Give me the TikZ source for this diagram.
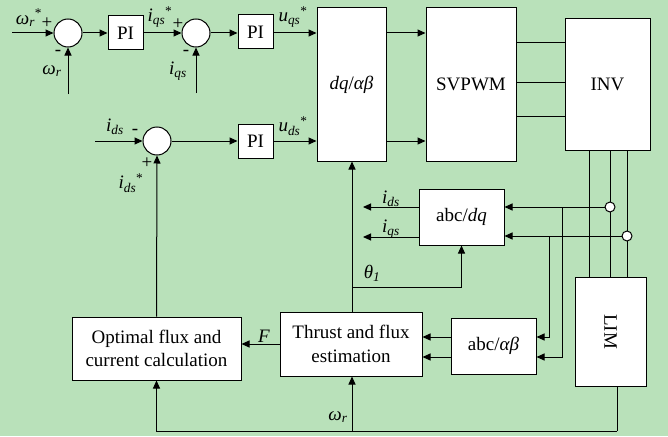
\documentclass[tikz,border=0pt]{standalone}
\usepackage{fontspec}
\setmainfont{Liberation Serif}
\usetikzlibrary{arrows.meta}

\definecolor{panelgreen}{RGB}{185,225,186}
\newcommand{\sv}[2]{\textit{#1}\textsubscript{\textit{#2}}}

\begin{document}
\begin{tikzpicture}[x=1pt,y=-1pt,
  every node/.style={font=\fontsize{19}{23}\selectfont},
  blk/.style={draw,fill=white,line width=1pt,inner sep=0pt,align=center},
  sumnode/.style={draw,circle,fill=white,minimum size=28pt,inner sep=0pt,line width=1pt},
  tap/.style={draw,circle,fill=white,minimum size=10pt,inner sep=0pt,line width=1pt},
  sig/.style={line width=1pt,-{Triangle[length=8pt,width=7pt]}},
  wire/.style={line width=1pt},
  lbl/.style={inner sep=0pt}]
% Background
\fill[panelgreen] (0,0) rectangle (668,436);
\useasboundingbox (0,0) rectangle (668,436);

% Speed and q-axis loop
\node[sumnode] (s1) at (68,33) {};
\node[blk,minimum width=35pt,minimum height=34pt] (pi1) at (125.5,33) {PI};
\node[sumnode] (s2) at (196,33) {};
\node[blk,minimum width=35pt,minimum height=34pt] (pi2) at (255.5,32) {PI};

% d-axis loop
\node[sumnode] (s3) at (157,141) {};
\node[blk,minimum width=35pt,minimum height=34pt] (pi3) at (255.5,141) {PI};

% Main blocks
\node[blk,minimum width=69pt,minimum height=153pt] (dq) at (351.5,84.5) {\textit{dq}/\textit{αβ}};
\node[blk,minimum width=90pt,minimum height=153pt] (svpwm) at (471,84.5) {SVPWM};
\node[blk,minimum width=85pt,minimum height=131pt] (inv) at (607.5,84.5) {INV};
\node[blk,minimum width=85pt,minimum height=56pt] (abcdq) at (461.5,217) {abc/\textit{dq}};
\node[blk,minimum width=85pt,minimum height=56pt] (abcab) at (493.5,346) {abc/\textit{αβ}};
\node[blk,minimum width=142pt,minimum height=64pt,font=\fontsize{19}{24}\selectfont] (thrust) at (351,344) {Thrust and flux\\estimation};
\node[blk,minimum width=169pt,minimum height=63pt,font=\fontsize{19}{23}\selectfont] (opt) at (156.5,348.5) {Optimal flux and\\current calculation};
\node[blk,minimum width=71pt,minimum height=109pt] (lim) at (610.5,331.5) {\rotatebox{-90}{LIM}};

% Free ends and branch points
\coordinate (wref) at (12,33);
\coordinate (wfb) at (68,94);
\coordinate (iqfb) at (196,93);
\coordinate (idin) at (95,141);
\coordinate (idout) at (363,207);
\coordinate (iqout) at (363,237);
\coordinate (thb) at (352,287);
\coordinate (bd) at (562,207);
\coordinate (bq) at (549,237);
\coordinate (limout) at (617,431);
\coordinate (wsp) at (352,431);

% Upper signal path
\draw[sig] (wref) -- (s1.west);
\draw[sig] (wfb) -- (s1.south);
\draw[sig] (s1.east) -- (pi1.west);
\draw[sig] (pi1.east) -- (s2.west);
\draw[sig] (iqfb) -- (s2.south);
\draw[sig] (s2.east) -- (pi2.west |- s2.east);
\draw[sig] (pi2.east |- s2.east) -- (dq.west |- s2.east);
\draw[sig] (idin) -- (s3.west);
\draw[sig] (s3.east) -- (pi3.west);
\draw[sig] (pi3.east) -- (dq.west |- pi3.east);
\draw[sig] (dq.east |- s2.east) -- (svpwm.west |- s2.east);
\draw[sig] (dq.east |- pi3.east) -- (svpwm.west |- pi3.east);
\foreach \y in {43,82,116}
  \draw[wire] (svpwm.east |- 0,\y) -- (inv.west |- 0,\y);

% Inverter to motor
\foreach \x in {589,610,627}
  \draw[wire] (inv.south -| \x,0) -- (lim.north -| \x,0);
\node[tap] (j1) at (610,207) {};
\node[tap] (j2) at (627,236) {};

% Current feedback
\draw[sig] (j1.west) -- (abcdq.east |- j1.west);
\draw[sig] (j2.west) -- (abcdq.east |- j2.west);
\draw[sig] (abcdq.west |- idout) -- (idout);
\draw[sig] (abcdq.west |- iqout) -- (iqout);
\draw[sig] (bd) |- (abcab.east |- 0,357);
\draw[sig] (bq) |- (abcab.east |- 0,337);
\draw[sig] (abcab.west |- 0,337) -- (thrust.east |- 0,337);
\draw[sig] (abcab.west |- 0,357) -- (thrust.east |- 0,357);

% Angle and flux reference
\draw[sig] (thrust.north -| thb) -- (dq.south -| thb);
\draw[sig] (thb) -| (abcdq.south);
\draw[sig] (thrust.west |- 0,344) -- (opt.east |- 0,344);
\draw[sig] (opt.north) -- (s3.south);

% Speed feedback
\draw[wire] (lim.south -| limout) -- (limout);
\draw[sig] (limout) -| (opt.south);
\draw[sig] (wsp) -- (thrust.south -| wsp);

% Labels
\node[lbl] (lwref) at (29,18) {\textit{ω}\textsubscript{\textit{r}}\textsuperscript{*}};
\node[lbl] at (47,23) {+};
\node[lbl] at (58,53) {-};
\node[lbl] (lwfb) at (52,71) {\sv{ω}{r}};
\node[lbl] (liqref) at (160,17) {\sv{i}{qs}\textsuperscript{*}};
\node[lbl] at (178,24) {+};
\node[lbl] at (186,53) {-};
\node[lbl] (liqfb) at (178,71) {\sv{i}{qs}};
\node[lbl] (luq) at (293,17) {\sv{u}{qs}\textsuperscript{*}};
\node[lbl] (lidin) at (115,127) {\sv{i}{ds}};
\node[lbl] at (135,132) {-};
\node[lbl] at (147,163) {+};
\node[lbl] (lidref) at (131,183) {\sv{i}{ds}\textsuperscript{*}};
\node[lbl] (lud) at (293,126) {\sv{u}{ds}\textsuperscript{*}};
\node[lbl] (lid) at (391,199) {\sv{i}{ds}};
\node[lbl] (liq) at (391,229) {\sv{i}{qs}};
\node[lbl] (lth) at (372,273) {\sv{θ}{1}};
\node[lbl] (lF) at (264,336) {\textit{F}};
\node[lbl] (lwsp) at (338,417) {\sv{ω}{r}};
\end{tikzpicture}
\end{document}
